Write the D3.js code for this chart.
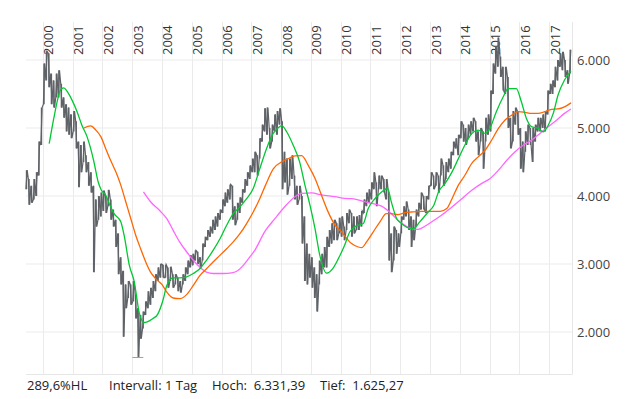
<!DOCTYPE html>
<html>
<head>
<meta charset="utf-8">
<script src="https://cdn.jsdelivr.net/npm/d3@7"></script>
<style>
  body { margin: 0; background: #fff; }
  text { font-family: "Open Sans", "Noto Sans", sans-serif; }
</style>
</head>
<body>
<div id="chart"></div>
<script>
"use strict";

// monthly high / low of the daily bars, Jun 1999 .. Sep 2017
var priceHigh = [
  4380, 4250, 4150, 4250, 4350, 4800, 5300,                                  // 1999 (Jun-Dec)
  5950, 6130, 6100, 5800, 5700, 5800, 5850, 5650, 5450, 5350, 5300, 5200,    // 2000
  5250, 5100, 4800, 4750, 4800, 4600, 4500, 4350, 4150, 3950, 4000, 4050,    // 2001
  4080, 4000, 4090, 3950, 3800, 3650, 3450, 3100, 2900, 2700, 2750, 2700,    // 2002
  2750, 2550, 2350, 2250, 2300, 2450, 2600, 2650, 2750, 2850, 2950, 3000,    // 2003
  2990, 2990, 2950, 2960, 2850, 2850, 2800, 2750, 2850, 2950, 3050, 3130,    // 2004
  3150, 3200, 3180, 3100, 3300, 3400, 3500, 3550, 3650, 3700, 3750, 3800,    // 2005
  3950, 4050, 4100, 4170, 4150, 3850, 3900, 3980, 4100, 4250, 4350, 4450,    // 2006
  4550, 4650, 4600, 4850, 5050, 5290, 5300, 5000, 5050, 5200, 5250, 5290,    // 2007
  5100, 4650, 4550, 4550, 4600, 4300, 4150, 4150, 4000, 3700, 3300, 3150,    // 2008
  3100, 2950, 2850, 3050, 3150, 3250, 3400, 3500, 3600, 3650, 3600, 3680,    // 2009
  3700, 3550, 3750, 3800, 3750, 3700, 3700, 3720, 3780, 3950, 4050, 4100,    // 2010
  4200, 4350, 4200, 4300, 4300, 4250, 4250, 4050, 3450, 3550, 3500, 3450,    // 2011
  3700, 3850, 3920, 3800, 3700, 3650, 3800, 3900, 4050, 4000, 4000, 4150,    // 2012
  4350, 4300, 4350, 4300, 4550, 4450, 4500, 4550, 4650, 4800, 4850, 4900,    // 2013
  5100, 5050, 5000, 5050, 5100, 5150, 5100, 4950, 5000, 4950, 5150, 5200,    // 2014
  5550, 5950, 6200, 6331.39, 6050, 5900, 5900, 5750, 5150, 5250, 5300, 5250, // 2015
  5000, 4800, 4950, 5050, 5000, 5000, 5050, 5150, 5150, 5200, 5250, 5550,    // 2016
  5650, 5700, 5900, 6000, 6100, 6120, 6000, 5850, 6150                       // 2017 (Jan-Sep)
];
var priceLow = [
  4100, 3870, 3900, 3950, 4000, 4300, 4750,
  5350, 5700, 5600, 5350, 5300, 5450, 5450, 5300, 5150, 4950, 4900, 4850,
  4950, 4700, 4130, 4350, 4500, 4350, 4150, 4050, 2880, 3550, 3650, 3700,
  3780, 3750, 3850, 3650, 3550, 3250, 2850, 2700, 1930, 2350, 2500, 2400,
  2450, 2200, 1625.27, 1900, 2050, 2250, 2350, 2400, 2500, 2600, 2750, 2800,
  2800, 2800, 2650, 2750, 2650, 2700, 2600, 2580, 2700, 2750, 2850, 2950,
  2980, 3050, 3000, 2930, 3050, 3250, 3350, 3400, 3450, 3500, 3550, 3650,
  3750, 3850, 3900, 3950, 3650, 3570, 3650, 3750, 3900, 4050, 4150, 4250,
  4350, 4350, 4300, 4550, 4800, 4950, 4900, 4700, 4800, 4950, 4900, 5050,
  4100, 4200, 4020, 4150, 4250, 3950, 3870, 3950, 3300, 2750, 2700, 2800,
  2650, 2500, 2300, 2700, 2850, 2950, 2950, 3250, 3300, 3350, 3350, 3450,
  3400, 3350, 3500, 3600, 3400, 3450, 3500, 3500, 3550, 3750, 3850, 3900,
  3950, 4100, 3850, 4100, 4100, 4050, 3950, 3050, 2880, 3050, 3150, 3250,
  3450, 3650, 3700, 3500, 3250, 3350, 3550, 3700, 3800, 3800, 3750, 3950,
  4150, 4100, 4150, 4050, 4300, 4150, 4250, 4350, 4400, 4600, 4700, 4600,
  4850, 4800, 4750, 4850, 4900, 4950, 4800, 4600, 4800, 4400, 4800, 4900,
  4950, 5500, 5800, 5900, 5750, 5550, 5500, 5000, 4700, 4800, 5050, 4900,
  4400, 4350, 4650, 4750, 4750, 4500, 4800, 4950, 4950, 5000, 4950, 5200,
  5500, 5500, 5600, 5700, 5900, 5850, 5750, 5650, 5800
];

// moving averages [date, value]
var maGreen = [
  ["2000-03-20",4770],["2000-05-15",5140],["2000-06-25",5385],["2000-08-05",5560],["2000-09-15",5590],
  ["2000-10-28",5535],["2000-12-25",5410],["2001-02-25",5240],["2001-04-25",5040],["2001-06-28",4870],
  ["2001-08-10",4700],["2001-09-20",4500],["2001-11-10",4210],["2001-12-20",4085],["2002-02-12",4010],
  ["2002-03-25",3890],["2002-05-25",3740],["2002-08-15",3620],["2002-09-25",3420],["2002-11-28",2980],
  ["2003-01-28",2735],["2003-03-28",2290],["2003-05-28",2140],["2003-07-05",2150],["2003-09-10",2195],
  ["2003-11-10",2260],["2004-01-15",2470],["2004-03-01",2685],["2004-05-15",2795],["2004-08-05",2795],
  ["2004-10-30",2810],["2005-01-20",2860],["2005-04-10",2930],["2005-07-01",3055],["2005-09-20",3200],
  ["2005-12-15",3375],["2006-03-05",3570],["2006-05-25",3740],["2006-08-15",3840],["2006-11-05",3960],
  ["2007-01-25",4110],["2007-04-15",4400],["2007-07-08",4700],["2007-09-28",4920],["2007-11-25",5000],
  ["2008-01-10",5035],["2008-03-10",4945],["2008-05-28",4750],["2008-08-15",4505],["2008-10-20",4160],
  ["2008-12-20",3870],["2009-02-20",3525],["2009-04-20",3130],["2009-07-12",2865],["2009-10-01",2940],
  ["2009-12-25",3130],["2010-02-20",3280],["2010-04-22",3470],["2010-07-15",3560],["2010-10-05",3595],
  ["2010-12-05",3815],["2011-02-25",3960],["2011-05-18",4060],["2011-07-30",4110],["2011-09-15",3910],
  ["2011-11-18",3670],["2012-01-18",3595],["2012-04-10",3530],["2012-06-10",3520],["2012-08-28",3620],
  ["2012-12-10",3765],["2013-02-15",3860],["2013-04-15",4060],["2013-07-05",4185],["2013-09-28",4355],
  ["2013-12-15",4550],["2014-03-05",4750],["2014-05-28",4920],["2014-08-15",4970],["2014-11-08",4920],
  ["2015-01-05",4995],["2015-03-25",5240],["2015-06-18",5460],["2015-08-15",5580],["2015-11-25",5580],
  ["2016-01-26",5385],["2016-03-28",5140],["2016-05-30",5020],["2016-08-18",4995],["2016-10-20",4945],
  ["2016-12-20",5040],["2017-02-20",5215],["2017-04-20",5485],["2017-07-08",5705],["2017-09-25",5840]
];
var maOrange = [
  ["2001-05-20",5000],["2001-08-10",5030],["2001-10-12",4970],["2001-12-15",4870],["2002-02-10",4700],
  ["2002-04-12",4525],["2002-06-15",4355],["2002-08-15",4160],["2002-10-15",3915],["2002-12-15",3670],
  ["2003-02-15",3420],["2003-04-15",3225],["2003-06-17",3030],["2003-08-15",2880],["2003-10-15",2785],
  ["2004-01-01",2700],["2004-02-28",2590],["2004-05-18",2500],["2004-08-05",2490],["2004-10-30",2550],
  ["2005-01-20",2685],["2005-04-10",2830],["2005-07-01",2930],["2005-09-20",3030],["2005-12-15",3130],
  ["2006-03-05",3225],["2006-05-25",3325],["2006-08-15",3445],["2006-11-05",3595],["2007-01-25",3765],
  ["2007-04-15",3960],["2007-06-25",4160],["2007-09-28",4400],["2008-01-15",4505],["2008-04-10",4555],
  ["2008-06-20",4590],["2008-09-10",4595],["2008-11-28",4455],["2009-02-20",4260],["2009-05-10",4015],
  ["2009-07-30",3770],["2009-10-22",3575],["2010-01-10",3475],["2010-05-15",3300],["2010-08-05",3250],
  ["2010-09-15",3240],["2010-11-15",3325],["2011-02-03",3470],["2011-04-28",3620],["2011-07-15",3740],
  ["2011-09-15",3740],["2011-12-05",3725],["2012-02-28",3755],["2012-05-18",3765],["2012-09-20",3775],
  ["2013-05-05",3775],["2013-07-25",3815],["2013-09-28",3960],["2013-12-15",4160],["2014-03-05",4305],
  ["2014-05-28",4480],["2014-08-15",4575],["2014-11-08",4675],["2015-01-26",4820],["2015-04-20",4995],
  ["2015-07-08",5115],["2015-10-01",5190],["2015-12-20",5240],["2016-03-10",5230],["2016-05-30",5215],
  ["2016-08-18",5215],["2016-11-08",5240],["2017-01-30",5275],["2017-04-20",5280],["2017-07-08",5310],
  ["2017-09-25",5370]
];
var maViolet = [
  ["2003-05-20",4060],["2003-08-15",3915],["2003-12-10",3780],["2004-02-28",3670],["2004-05-18",3495],
  ["2004-08-05",3325],["2004-10-30",3180],["2005-01-20",3055],["2005-04-10",2955],["2005-07-01",2880],
  ["2005-09-20",2860],["2006-01-22",2860],["2006-05-05",2870],["2006-07-22",2905],["2006-09-25",2980],
  ["2006-12-15",3105],["2007-02-15",3205],["2007-06-15",3475],["2007-10-20",3670],["2008-02-18",3845],
  ["2008-06-20",3990],["2008-09-10",4040],["2009-01-10",4045],["2009-05-10",4015],["2009-10-22",3990],
  ["2010-02-20",3965],["2010-05-15",3960],["2010-09-15",3930],["2011-01-15",3890],["2011-05-18",3850],
  ["2011-09-15",3740],["2011-12-05",3645],["2012-02-28",3570],["2012-05-18",3520],["2012-08-08",3510],
  ["2012-11-20",3570],["2013-02-28",3650],["2013-05-25",3720],["2013-09-28",3840],["2014-01-26",3960],
  ["2014-05-28",4085],["2014-09-28",4185],["2015-01-05",4255],["2015-04-20",4380],["2015-08-01",4525],
  ["2015-11-10",4650],["2016-02-20",4750],["2016-05-30",4820],["2016-09-10",4920],["2016-12-20",5020],
  ["2017-04-01",5115],["2017-07-08",5215],["2017-09-25",5280]
];

var yTicks = [2000, 3000, 4000, 5000, 6000];
var years = d3.range(2000, 2018);
var footer = [
  {x: 27,  t: "289,6%HL"},
  {x: 109, t: "Intervall: 1 Tag"},
  {x: 212, t: "Hoch:\u00a0 6.331,39"},
  {x: 320, t: "Tief:\u00a0 1.625,27"}
];
var lowDate = "2003-03-12", lowValue = 1625.27;

var W = 634, H = 399;
var plotLeft = 26, plotRight = 572, plotTop = 22, plotBottom = 374;

var svg = d3.select("#chart").append("svg")
    .attr("width", W)
    .attr("height", H);

var parse = d3.timeParse("%Y-%m-%d");
var x = d3.scaleTime()
    .domain([new Date(1999, 5, 1), new Date(2017, 9, 8)])
    .range([25.3, plotRight]);
var y = d3.scaleLinear()
    .domain([2000, 6000])
    .range([332, 60]);

// grid
svg.append("g").selectAll("line").data(yTicks).join("line")
    .attr("x1", plotLeft).attr("x2", plotRight)
    .attr("y1", d => y(d)).attr("y2", d => y(d))
    .attr("stroke", "#ebebeb").attr("stroke-width", 1);
svg.append("g").selectAll("line").data(years).join("line")
    .attr("x1", d => Math.round(x(new Date(d, 0, 1))) + 0.5)
    .attr("x2", d => Math.round(x(new Date(d, 0, 1))) + 0.5)
    .attr("y1", plotTop).attr("y2", plotBottom)
    .attr("stroke", "#ebebeb").attr("stroke-width", 1);
svg.append("line")
    .attr("x1", plotLeft).attr("x2", plotRight + 0.5)
    .attr("y1", plotBottom + 0.5).attr("y2", plotBottom + 0.5)
    .attr("stroke", "#e6e6e6");
svg.append("line")
    .attr("x1", plotRight + 0.5).attr("x2", plotRight + 0.5)
    .attr("y1", plotTop).attr("y2", plotBottom)
    .attr("stroke", "#e6e6e6");

// year labels, rotated
svg.append("g").selectAll("text").data(years).join("text")
    .attr("transform", d => "translate(" + (x(new Date(d, 0, 1)) + 10.5) + ",55) rotate(-90)")
    .attr("font-size", 13)
    .attr("fill", "#333")
    .text(d => d);

// right axis labels
var fmt = d3.formatLocale({decimal: ",", thousands: ".", grouping: [3], currency: ["", ""]}).format(",.0f");
svg.append("g").selectAll("text").data(yTicks).join("text")
    .attr("x", 577)
    .attr("y", d => y(d))
    .attr("dy", "0.35em")
    .attr("font-size", 13)
    .attr("fill", "#444")
    .text(d => fmt(d));

// price bars: one high-low bar per month plus a zig-zag trace between them
var months = d3.timeMonth.range(new Date(1999, 5, 1), new Date(2017, 9, 1));
var bars = months.map(function(m, i) {
  var up = i === 0 || priceHigh[i] >= priceHigh[i - 1];
  return {start: m, end: d3.timeMonth.offset(m, 1), hi: priceHigh[i], lo: priceLow[i], up: up};
});
var plot = svg.append("g");
var barColor = "#5f6368";

var trace = [];
bars.forEach(function(d) {
  var x0 = x(d.start), x1 = Math.min(x(d.end), plotRight);
  var a = x0 + (x1 - x0) * 0.25, b = x0 + (x1 - x0) * 0.75;
  if (d.up) { trace.push([a, y(d.lo)], [b, y(d.hi)]); }
  else { trace.push([a, y(d.hi)], [b, y(d.lo)]); }
});
plot.append("path")
    .attr("d", d3.line()(trace))
    .attr("fill", "none")
    .attr("stroke", barColor)
    .attr("stroke-width", 1.2)
    .attr("stroke-linejoin", "miter");

plot.selectAll("line.bar").data(bars).join("line")
    .attr("class", "bar")
    .attr("x1", d => (x(d.start) + Math.min(x(d.end), plotRight)) / 2)
    .attr("x2", d => (x(d.start) + Math.min(x(d.end), plotRight)) / 2)
    .attr("y1", d => y(d.hi))
    .attr("y2", d => y(d.lo))
    .attr("stroke", barColor)
    .attr("stroke-width", 1.4);

// low marker
var lx = x(parse(lowDate));
plot.append("line")
    .attr("x1", lx - 5.5).attr("x2", lx + 5.5)
    .attr("y1", y(lowValue)).attr("y2", y(lowValue))
    .attr("stroke", "#a0a0a0").attr("stroke-width", 1);

// moving averages
var line = d3.line()
    .x(d => x(parse(d[0])))
    .y(d => y(d[1]))
    .curve(d3.curveMonotoneX);
[[maViolet, "#ff66ff"], [maOrange, "#ff6600"], [maGreen, "#00c832"]].forEach(function(s) {
  plot.append("path")
      .datum(s[0])
      .attr("fill", "none")
      .attr("stroke", s[1])
      .attr("stroke-width", 1.3)
      .attr("d", line);
});

// footer
svg.append("g").selectAll("text").data(footer).join("text")
    .attr("x", d => d.x)
    .attr("y", 390)
    .attr("font-size", 13)
    .attr("fill", "#222")
    .text(d => d.t);
</script>
</body>
</html>
